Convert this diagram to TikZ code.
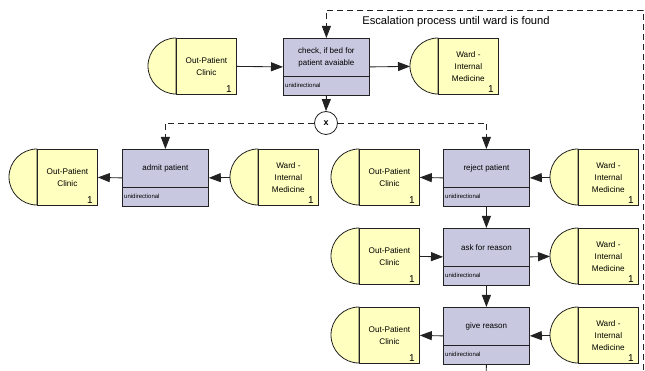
\documentclass[tikz,border=0pt]{standalone}
\usepackage{fontspec}
\setmainfont{Liberation Sans}
\usetikzlibrary{arrows.meta,calc}

\definecolor{termfill}{HTML}{FFFFC0}
\definecolor{procfill}{HTML}{C8C8E0}
\definecolor{edgecol}{HTML}{222222}

\tikzset{
  termbody/.style={draw=edgecol, fill=termfill, line width=0.8pt, minimum width=60pt,
    minimum height=56pt, inner sep=0pt, align=center, font=\fontsize{8.2}{12}\selectfont},
  termarc/.style={draw=edgecol, fill=termfill, line width=0.8pt},
  countlabel/.style={inner sep=1pt, font=\fontsize{10}{10}\selectfont},
  procbody/.style={draw=edgecol, fill=procfill, line width=0.8pt, minimum width=86pt,
    minimum height=57pt, inner sep=0pt},
  proctext/.style={align=center, inner sep=0pt, font=\fontsize{8}{12.5}\selectfont},
  subtext/.style={inner sep=1pt, font=\fontsize{6}{7}\selectfont},
  flow/.style={draw=edgecol, line width=0.85pt, -{Triangle[length=12pt,width=9pt]}},
  plainline/.style={draw=edgecol, line width=0.85pt},
  dashline/.style={dash pattern=on 6pt off 4pt},
}

% terminal: name, x of straight edge, top y, label
\newcommand\terminalshape[4]{%
  \filldraw[termarc] ($(#2,#3)$) arc[start angle=90,end angle=270,radius=28pt] -- cycle;
  \node[termbody, anchor=north west] (#1) at (#2,#3) {#4};
  \coordinate (#1-tip) at ([xshift=-28pt]#1.west);
  \node[countlabel, anchor=south east] (#1-n) at ([shift={(-4pt,1.5pt)}]#1.south east) {1};
}

% activity box: name, left x, top y, label
\newcommand\processbox[4]{%
  \node[procbody, anchor=north west] (#1) at (#2,#3) {};
  \draw[plainline] ([yshift=-38pt]#1.north west) -- ([yshift=-38pt]#1.north east);
  \node[proctext] (#1-t) at ([yshift=-19.5pt]#1.north) {#4};
  \node[subtext, anchor=west] (#1-s) at ([shift={(1pt,-47.5pt)}]#1.north west) {unidirectional};
}

\begin{document}
\begin{tikzpicture}[x=1pt, y=-1pt]
\useasboundingbox (0,0) rectangle (645,371);

% top row
\terminalshape{opcA}{176}{38}{Out-Patient\\Clinic}
\processbox{check}{283}{38}{check, if bed for\\patient avaiable}
\terminalshape{wardA}{438}{38}{Ward -\\Internal\\Medicine}

% decision
\node[circle, draw=edgecol, fill=white, line width=0.8pt, minimum size=23pt, inner sep=0pt,
  font=\bfseries\fontsize{9}{9}\selectfont] (xor) at (326,123) {x};

% left branch
\terminalshape{opcB}{37}{149}{Out-Patient\\Clinic}
\processbox{admit}{122}{149}{admit patient}
\terminalshape{wardB}{258}{149}{Ward -\\Internal\\Medicine}

% right branch
\terminalshape{opcC}{359}{149}{Out-Patient\\Clinic}
\processbox{reject}{443}{149}{reject patient}
\terminalshape{wardC}{578}{149}{Ward -\\Internal\\Medicine}

\terminalshape{opcD}{359}{228}{Out-Patient\\Clinic}
\processbox{ask}{443}{228}{ask for reason}
\terminalshape{wardD}{578}{228}{Ward -\\Internal\\Medicine}

\terminalshape{opcE}{359}{307}{Out-Patient\\Clinic}
\processbox{give}{443}{307}{give reason}
\terminalshape{wardE}{578}{307}{Ward -\\Internal\\Medicine}

% flows
\draw[flow] (opcA.east) -- (check.west);
\draw[flow] (check.east) -- (wardA-tip);
\draw[flow] (check.south) -- (xor.north);

\draw[flow, dashline] (xor.west) -| (admit.north);
\draw[flow, dashline] (xor.east) -| (reject.north);

\draw[flow] (admit.west) -- (opcB.east);
\draw[flow] (wardB-tip) -- (admit.east);

\draw[flow] (reject.west) -- (opcC.east);
\draw[flow] (wardC-tip) -- (reject.east);
\draw[flow] (reject.south) -- (ask.north);

\draw[flow] (opcD.east) -- (ask.west);
\draw[flow] (ask.east) -- (wardD-tip);
\draw[flow] (ask.south) -- (give.north);

\draw[flow] (give.west) -- (opcE.east);
\draw[flow] (wardE-tip) -- (give.east);

\coordinate (giveOut) at (486,380);
\draw[plainline] (give.south) -- (giveOut);

% escalation loop
\coordinate (escStart) at (643,380);
\coordinate (escCorner) at (643,10);
\draw[flow, dashline] (escStart) -- (escCorner) -| (check.north);
\node[font=\fontsize{11.2}{13}\selectfont, inner sep=0pt] (escLabel) at (456,22)
  {Escalation process until ward is found};
\end{tikzpicture}
\end{document}
